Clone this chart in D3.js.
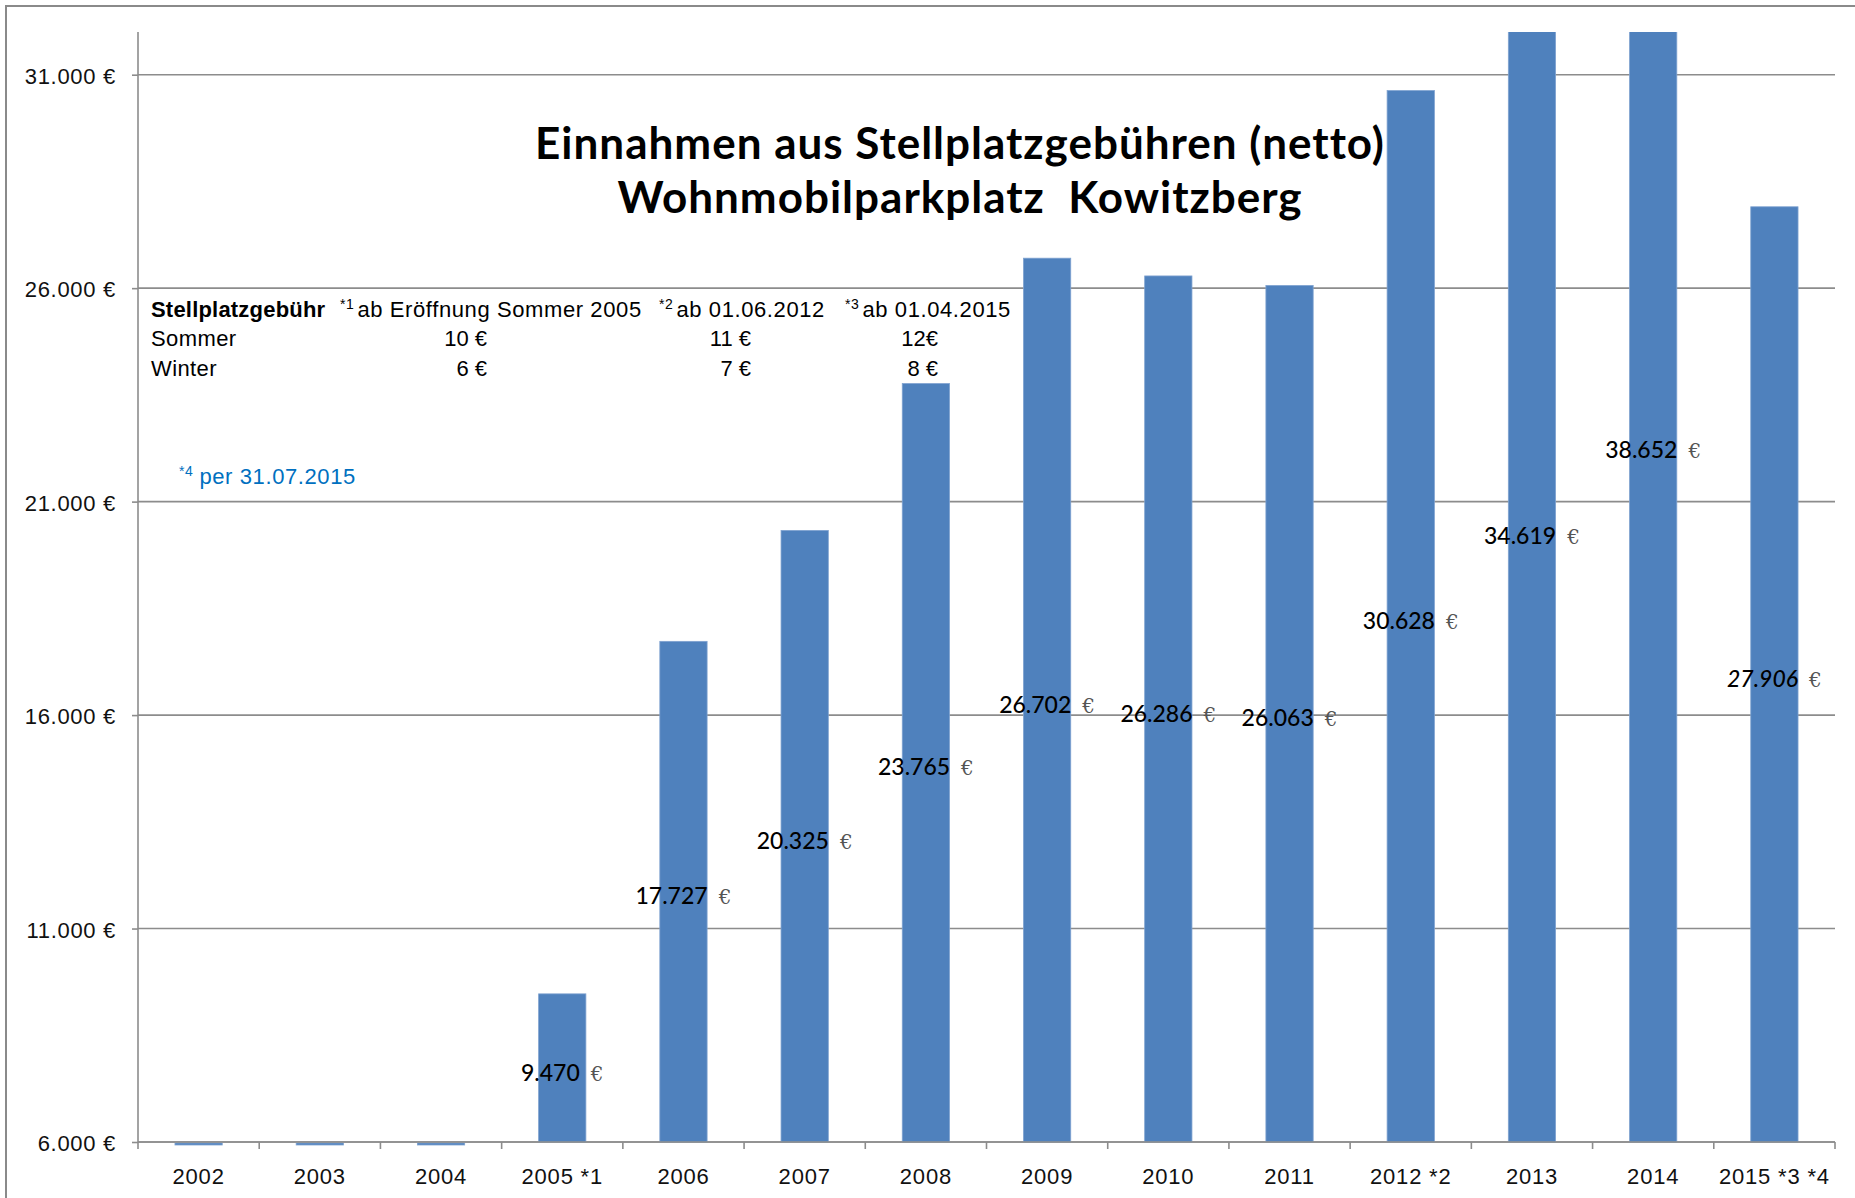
<!DOCTYPE html>
<html>
<head>
<meta charset="utf-8">
<script src="https://cdn.jsdelivr.net/npm/d3@7"></script>
<style>
  body { margin: 0; background: #fff; }
  svg { display: block; }
  .axis text { font-family: "Liberation Sans", Arial, sans-serif; fill: #111; }
  .axis .domain { display: none; }
</style>
</head>
<body>
<div id="chart"></div>
<script>
// Werte
const years = ['2002', '2003', '2004', '2005 *1', '2006', '2007', '2008', '2009',
  '2010', '2011', '2012 *2', '2013', '2014', '2015 *3 *4'];
const revenue = [0, 0, 0, 9470, 17727, 20325, 23765, 26702, 26286, 26063, 30628, 34619, 38652, 27906];
const partialYear = '2015 *3 *4';
const yTicks = [6000, 11000, 16000, 21000, 26000, 31000];
const yMin = 6000, yMax = 32000;

const titleLines = ['Einnahmen aus Stellplatzgebühren (netto)', 'Wohnmobilparkplatz  Kowitzberg'];
const feeHeader = 'Stellplatzgebühr';
const feePeriods = [['*1', 'ab Eröffnung Sommer 2005'], ['*2', 'ab 01.06.2012'], ['*3', 'ab 01.04.2015']];
const feeRows = ['Sommer', 'Winter'];
const summerFees = ['10 €', '11 €', '12€'];
const winterFees = ['6 €', '7 €', '8 €'];
const footnote = ['*4', 'per 31.07.2015'];

const width = 1855, height = 1198;
const margin = { top: 32, right: 20, bottom: 56, left: 138 };
const plotRight = 1835;

const fmt = d3.formatLocale({ decimal: ',', thousands: '.', grouping: [3], currency: ['', ' €'] }).format(',.0f');

const x_scale = d3.scaleBand()
  .domain(years)
  .range([margin.left, plotRight])
  .paddingInner(0.61)
  .paddingOuter(0.305);
const y_scale = d3.scaleLinear()
  .domain([yMin, yMax])
  .range([height - margin.bottom, margin.top]);
const y0 = y_scale(yMin);

const svg = d3.select('#chart').append('svg')
  .attr('width', width)
  .attr('height', height);

// Rahmen
svg.append('rect')
  .attr('x', 6).attr('y', 6)
  .attr('width', width + 20).attr('height', height + 20)
  .attr('fill', 'none').attr('stroke', '#8a8a8a').attr('stroke-width', 2);

// Gitternetz
svg.append('g')
  .selectAll('line')
  .data(yTicks)
  .enter().append('line')
    .attr('x1', margin.left).attr('x2', plotRight)
    .attr('y1', (d) => y_scale(d)).attr('y2', (d) => y_scale(d))
    .attr('stroke', '#8c8c8c').attr('stroke-width', 1.6);

svg.append('clipPath').attr('id', 'plot-clip')
  .append('rect')
  .attr('x', margin.left).attr('y', margin.top)
  .attr('width', plotRight - margin.left).attr('height', y0 - margin.top + 4);

// Balken
const bars = svg.append('g').attr('clip-path', 'url(#plot-clip)');
bars.selectAll('.bar')
  .data(years)
  .enter().append('rect')
    .attr('class', 'bar')
    .attr('x', (d) => x_scale(d))
    .attr('width', x_scale.bandwidth())
    .attr('y', (d, i) => revenue[i] > yMin ? y_scale(revenue[i]) : y0 + 1)
    .attr('height', (d, i) => revenue[i] > yMin ? y0 - y_scale(revenue[i]) : 2)
    .attr('fill', '#4f81bd')
    .attr('stroke', '#7fa2d0')
    .attr('stroke-width', 0.8);

// Achsen
const yAxis = svg.append('g')
  .attr('class', 'axis')
  .attr('transform', 'translate(' + margin.left + ',0)')
  .call(d3.axisLeft(y_scale).tickValues(yTicks).tickSize(6).tickPadding(16)
    .tickFormat((d) => fmt(d) + ' €'));
yAxis.selectAll('line').attr('stroke', '#8c8c8c').attr('stroke-width', 1.6);
yAxis.selectAll('text').attr('font-size', 22).attr('dy', '0.4em').style('letter-spacing', '0.7px');

svg.append('line')
  .attr('x1', margin.left).attr('x2', margin.left)
  .attr('y1', margin.top).attr('y2', y0)
  .attr('stroke', '#8c8c8c').attr('stroke-width', 1.6);
svg.append('line')
  .attr('x1', margin.left).attr('x2', plotRight)
  .attr('y1', y0).attr('y2', y0)
  .attr('stroke', '#8c8c8c').attr('stroke-width', 1.6);

const step = x_scale.step();
svg.append('g')
  .selectAll('line')
  .data(years.concat(['end']))
  .enter().append('line')
    .attr('x1', (d, i) => margin.left + i * step)
    .attr('x2', (d, i) => margin.left + i * step)
    .attr('y1', y0).attr('y2', y0 + 7)
    .attr('stroke', '#8c8c8c').attr('stroke-width', 1.6);

const xAxis = svg.append('g')
  .attr('class', 'axis')
  .attr('transform', 'translate(0,' + y0 + ')')
  .call(d3.axisBottom(x_scale).tickSize(0).tickPadding(26));
xAxis.selectAll('text').attr('font-size', 22).style('letter-spacing', '0.8px');

// Datenbeschriftungen, in der Mitte des (ungekappten) Balkens
const labels = svg.append('g')
  .selectAll('text')
  .data(years.filter((d, i) => revenue[i] > yMin))
  .enter().append('text')
    .attr('x', (d) => x_scale(d) + x_scale.bandwidth() / 2)
    .attr('y', (d) => (y_scale(revenue[years.indexOf(d)]) + y0) / 2)
    .attr('dy', '0.55em')
    .attr('text-anchor', 'middle')
    .attr('font-family', 'Lato, "Liberation Sans", sans-serif')
    .attr('font-size', 23)
    .attr('font-style', (d) => d === partialYear ? 'italic' : 'normal');
labels.append('tspan')
  .attr('fill', '#000')
  .attr('font-weight', 500)
  .text((d) => fmt(revenue[years.indexOf(d)]));
labels.append('tspan')
  .attr('dx', 11)
  .attr('fill', '#555')
  .attr('font-style', 'normal')
  .attr('font-family', '"DejaVu Serif", serif')
  .attr('font-size', 20)
  .text('€');

// Titel
svg.append('g')
  .selectAll('text')
  .data(titleLines)
  .enter().append('text')
    .attr('x', 960)
    .attr('y', (d, i) => 159 + i * 54)
    .attr('text-anchor', 'middle')
    .attr('font-family', 'Lato, "Liberation Sans", sans-serif')
    .attr('font-weight', 'bold')
    .attr('font-size', 44)
    .style('letter-spacing', '1px')
    .style('white-space', 'pre')
    .text((d) => d);

// Gebührentabelle
const table = svg.append('g')
  .attr('font-family', '"Liberation Sans", Arial, sans-serif')
  .attr('font-size', 22)
  .attr('fill', '#000');
table.append('text')
  .attr('x', 151).attr('y', 317)
  .attr('font-weight', 'bold')
  .style('letter-spacing', '0.2px')
  .text(feeHeader);
const periodX = [340, 659, 845];
feePeriods.forEach((p, i) => {
  const t = table.append('text').attr('x', periodX[i]).attr('y', 317).style('letter-spacing', '0.6px');
  t.append('tspan').attr('font-size', 14).attr('dy', -8).text(p[0]);
  t.append('tspan').attr('dy', 8).attr('dx', 3).text(p[1]);
});
const rowY = [346, 376];
feeRows.forEach((r, i) => {
  table.append('text').attr('x', 151).attr('y', rowY[i]).style('letter-spacing', '0.4px').text(r);
});
const feeX = [487, 751, 938];
[summerFees, winterFees].forEach((row, r) => {
  row.forEach((v, i) => {
    table.append('text')
      .attr('x', feeX[i]).attr('y', rowY[r])
      .attr('text-anchor', 'end')
      .text(v);
  });
});

const note = svg.append('text')
  .attr('x', 179).attr('y', 484)
  .attr('font-family', '"Liberation Sans", Arial, sans-serif')
  .attr('font-size', 22)
  .style('letter-spacing', '0.6px')
  .attr('fill', '#0070c0');
note.append('tspan').attr('font-size', 14).attr('dy', -8).text(footnote[0]);
note.append('tspan').attr('dy', 8).attr('dx', 6).text(footnote[1]);
</script>
</body>
</html>
